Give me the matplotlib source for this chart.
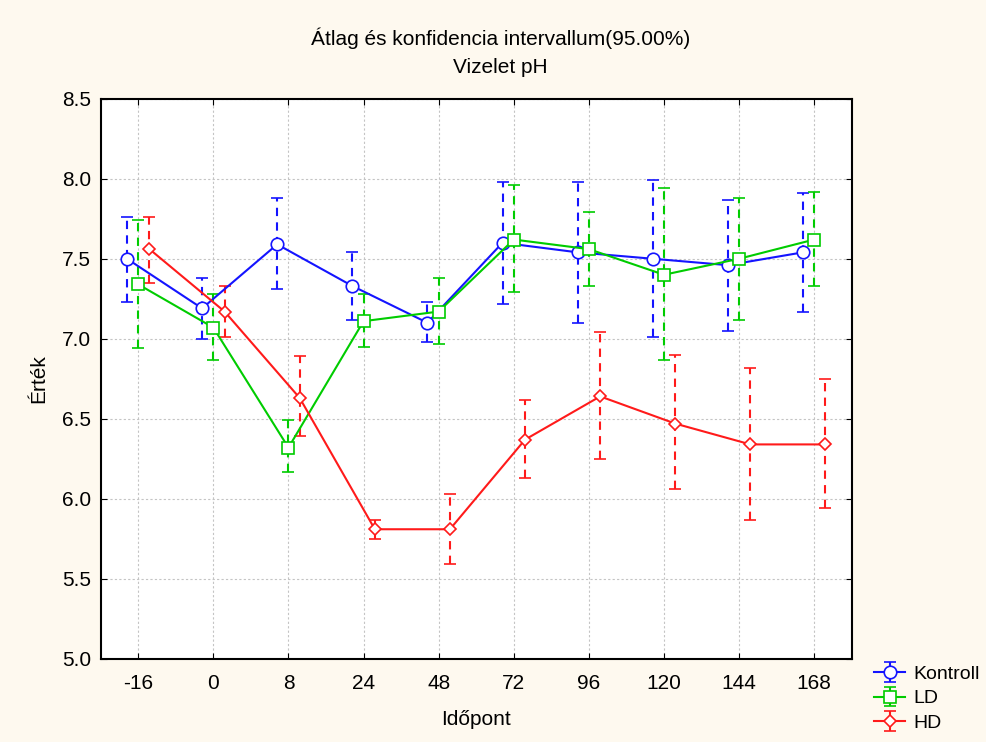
import numpy as np
import matplotlib
matplotlib.use('Agg')
import matplotlib.pyplot as plt

plt.rcParams['font.family'] = ['Liberation Sans', 'DejaVu Sans']

# Időpontok (óra)
timepoints = ["-16", "0", "8", "24", "48", "72", "96", "120", "144", "168"]

# átlag, felső és alsó konfidencia határ
kontroll_mean = [7.50, 7.19, 7.59, 7.33, 7.10, 7.60, 7.54, 7.50, 7.46, 7.54]
kontroll_hi = [7.76, 7.38, 7.88, 7.54, 7.23, 7.98, 7.98, 7.99, 7.87, 7.91]
kontroll_lo = [7.23, 7.00, 7.31, 7.12, 6.98, 7.22, 7.10, 7.01, 7.05, 7.17]

ld_mean = [7.34, 7.07, 6.32, 7.11, 7.17, 7.62, 7.56, 7.40, 7.50, 7.62]
ld_hi = [7.74, 7.28, 6.49, 7.28, 7.38, 7.96, 7.79, 7.94, 7.88, 7.92]
ld_lo = [6.94, 6.87, 6.17, 6.95, 6.97, 7.29, 7.33, 6.87, 7.12, 7.33]

hd_mean = [7.56, 7.17, 6.63, 5.81, 5.81, 6.37, 6.64, 6.47, 6.34, 6.34]
hd_hi = [7.76, 7.33, 6.89, 5.87, 6.03, 6.62, 7.04, 6.90, 6.82, 6.75]
hd_lo = [7.35, 7.01, 6.39, 5.75, 5.59, 6.13, 6.25, 6.06, 5.87, 5.94]

series = [
    ("Kontroll", kontroll_mean, kontroll_hi, kontroll_lo, "#1414ff", "o", 9, -0.15),
    ("LD", ld_mean, ld_hi, ld_lo, "#00cc00", "s", 9, 0.0),
    ("HD", hd_mean, hd_hi, hd_lo, "#ff1a1a", "D", 6.5, 0.15),
]

fig = plt.figure(figsize=(9.87, 7.42), dpi=100, facecolor="#fef9ef")
ax = fig.add_axes([0.102, 0.112, 0.761, 0.755])
ax.set_facecolor("white")

x = np.arange(len(timepoints))
for name, m, hi, lo, col, mk, ms, off in series:
    m = np.array(m)
    yerr = [m - np.array(lo), np.array(hi) - m]
    eb = ax.errorbar(x + off, m, yerr=yerr, color=col, marker=mk, ms=ms,
                     mfc="white", mec=col, mew=1.2, lw=1.5, elinewidth=1.5,
                     capsize=4, capthick=1.5, label=name)
    eb[2][0].set_linestyle((0, (4, 3)))

ax.set_xlim(-0.5, len(timepoints) - 0.5)
ax.set_ylim(5.0, 8.5)
ax.set_xticks(x)
ax.set_xticklabels(timepoints)
ax.set_yticks(np.arange(5.0, 8.51, 0.5))
ax.set_yticklabels([f"{v:.1f}" for v in np.arange(5.0, 8.51, 0.5)])
ax.tick_params(direction="in", top=True, right=True, labelsize=15, length=4)
ax.tick_params(axis="x", pad=11)
ax.tick_params(axis="y", pad=7)
ax.grid(True, color="#c4c4c4", linestyle=(0, (2, 2)), linewidth=0.8)
for s in ax.spines.values():
    s.set_linewidth(1.5)

ax.set_xlabel("Időpont", fontsize=15, labelpad=12)
ax.set_ylabel("Érték", fontsize=15, labelpad=10)

fig.text(0.507, 0.949, "Átlag és konfidencia intervallum(95.00%)", ha="center", va="center", fontsize=15)
fig.text(0.507, 0.909, "Vizelet pH", ha="center", va="center", fontsize=15)

ax.legend(loc="upper left", bbox_to_anchor=(1.022, -0.001), frameon=False,
          fontsize=14, handlelength=1.6, handletextpad=0.4, labelspacing=0.35,
          borderaxespad=0, borderpad=0.3)

plt.savefig("out.png", dpi=100, facecolor=fig.get_facecolor())
